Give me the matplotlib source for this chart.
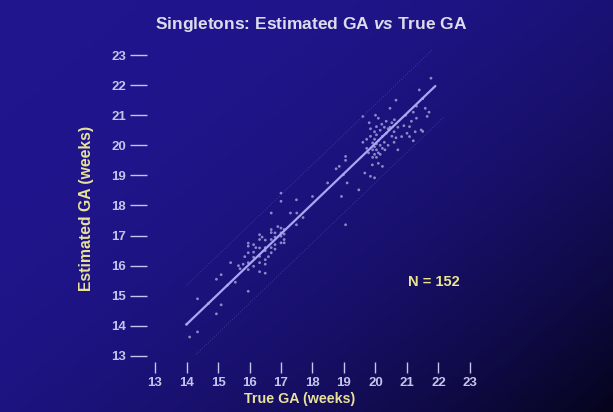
import numpy as np
import matplotlib
matplotlib.use("Agg")
import matplotlib.pyplot as plt

plt.rcParams['font.family'] = ['Liberation Sans', 'DejaVu Sans']
plt.rcParams['mathtext.fontset'] = 'custom'
plt.rcParams['mathtext.rm'] = 'Liberation Sans:bold'
plt.rcParams['mathtext.it'] = 'Liberation Sans:bold:italic'
plt.rcParams['mathtext.bf'] = 'Liberation Sans:bold'

# ---- data (weeks) ----
true_ga = [
    14.0, 14.1, 14.35, 14.35, 14.95, 15.1, 14.95, 15.1, 15.4, 15.65, 15.55, 15.3, 14.7, 15.7, 15.85,
    15.96, 15.96, 15.96, 15.96, 15.96, 15.96,
    16.13, 16.13, 16.13, 16.13,
    16.32, 16.32, 16.32, 16.32, 16.32, 16.32,
    16.5, 16.5, 16.5, 16.5, 16.5, 16.5,
    16.69, 16.69, 16.69, 16.69, 16.69, 16.69,
    16.81, 16.81, 16.81, 16.81,
    17.0, 17.0, 17.0, 17.0, 17.0, 17.0,
    17.1, 17.1, 17.1, 17.1,
    16.2, 16.4, 16.6, 16.9, 15.8,
    17.3, 17.49, 17.5, 17.49, 17.7, 18.0, 18.48, 18.75, 18.85, 18.92, 18.98, 19.05, 19.05, 19.05, 19.1,
    19.47, 19.6, 19.6, 19.66, 19.72, 19.72, 19.78, 19.84, 19.84, 19.84,
    19.91, 19.91, 19.91, 19.97, 19.97, 19.97, 19.97, 19.97,
    20.03, 20.03, 20.03, 20.03, 20.03, 20.09, 20.09, 20.09, 20.09,
    20.15, 20.15, 20.15, 20.22, 20.22, 20.22, 20.28, 20.28, 20.34, 20.34,
    20.4, 20.4, 20.46, 20.46, 20.52, 20.52, 20.59, 20.59, 20.65, 20.65, 20.71, 20.71,
    19.8, 20.2, 19.9, 20.3, 20.0, 20.6,
    20.83, 20.9, 20.96, 21.0, 21.08, 21.08, 21.14, 21.2, 21.26, 21.3,
    21.39, 21.45, 21.5, 21.58, 21.64, 21.7, 21.76, 21.3, 21.5, 21.2,
]
est_ga = [
    14.05, 13.63, 13.8, 14.9, 14.4, 14.7, 15.55, 15.7, 16.1, 16.0, 15.45, 15.35, 14.75, 15.9, 16.3,
    16.65, 16.43, 16.1, 15.87, 15.15, 16.75,
    16.45, 16.28, 15.98, 16.7,
    17.03, 16.87, 16.59, 16.31, 16.1, 15.8,
    16.6, 16.5, 16.2, 16.05, 15.75, 16.85,
    17.2, 17.1, 16.87, 16.6, 16.43, 17.75,
    17.09, 16.7, 16.55, 16.95,
    18.41, 18.14, 17.09, 16.98, 16.76, 17.25,
    17.2, 16.87, 16.76, 17.05,
    16.6, 16.95, 16.3, 17.3, 16.05,
    17.75, 18.19, 17.75, 17.36, 17.6, 18.3, 18.75, 19.22, 19.3, 18.3, 19.02, 17.36, 19.63, 19.5, 18.75,
    18.52, 20.96, 20.1, 19.08, 19.9, 20.2, 19.75, 18.97, 20.55, 20.3,
    20.08, 19.85, 19.6, 20.45, 20.2, 19.95, 19.7, 18.92,
    20.62, 20.35, 20.05, 19.85, 19.6, 20.9, 20.15, 19.75, 19.4,
    20.5, 20.0, 19.7, 20.3, 19.9, 19.3, 20.6, 20.1, 20.8, 20.4,
    20.55, 20.0, 21.23, 20.6, 20.3, 20.75, 20.45, 20.1, 21.5, 20.25, 19.85, 20.6,
    20.75, 20.7, 19.35, 19.85, 21.0, 20.85,
    20.29, 20.65, 21.0, 20.4, 20.62, 20.29, 20.8, 21.1, 20.45, 21.3,
    21.84, 20.51, 20.46, 21.23, 20.96, 21.1, 22.23, 20.9, 21.55, 20.15,
]
fit_x = [14.0, 21.9]
fit_y = [14.05, 21.97]
band_offset = 1.3
ticks = list(range(13, 24))
n_label = "N = 152"

W, H = 613, 412
fig = plt.figure(figsize=(W / 100, H / 100), dpi=100)

# background gradient
bg = fig.add_axes([0, 0, 1, 1])
bg.set_axis_off()
xx, yy = np.meshgrid(np.linspace(0, 1, 300), np.linspace(0, 1, 200))
t = np.clip(0.62 * xx + 0.5 * yy - 0.15, 0, 1) ** 2.2
c0 = np.array([0x20, 0x15, 0x8c]) / 255.0
c1 = np.array([0x03, 0x03, 0x14]) / 255.0
img = c0[None, None, :] * (1 - t[..., None]) + c1[None, None, :] * t[..., None]
bg.imshow(img, extent=[0, 1, 0, 1], aspect='auto', origin='upper')
bg.set_xlim(0, 1)
bg.set_ylim(0, 1)

ax = fig.add_axes([147 / W, 50 / H, (478 - 147) / W, (362 - 49) / H])
ax.patch.set_alpha(0)
for s in ax.spines.values():
    s.set_visible(False)

tick_col = '#c4c4ec'
ax.set_xlim(12.746, 23.254)
ax.set_ylim(12.80, 23.2)
ax.set_xticks(ticks)
ax.set_yticks(ticks)
ax.tick_params(axis='x', direction='out', length=8, width=1.0, color=tick_col,
               labelcolor=tick_col, labelsize=9.5, pad=3)
ax.tick_params(axis='y', direction='out', length=12, width=1.0, color=tick_col,
               labelcolor=tick_col, labelsize=9.5, pad=3)
for lab in ax.get_xticklabels() + ax.get_yticklabels():
    lab.set_fontweight('bold')

# bands
bx = np.array(fit_x)
by = np.array(fit_y)
ax.plot(bx, by + band_offset, color='#433ea0', lw=0.8, ls=(0, (1, 1.5)), alpha=0.7)
ax.plot(bx + 0.3, by + 0.3 - band_offset, color='#433ea0', lw=0.8, ls=(0, (1, 1.5)), alpha=0.7)

ax.scatter(true_ga, est_ga, s=4, facecolor='#a8a8d8', edgecolor='none', alpha=0.8)
ax.plot(fit_x, fit_y, color='#a8a8f2', lw=1.6, solid_capstyle='round')

ax.text(21.86, 15.46, n_label, color='#ece68e', fontsize=10.5, fontweight='bold',
        ha='center', va='center')

fig.text(311 / W, 1 - 25 / H, r"Singletons: Estimated GA $\mathit{vs}$ True GA",
         color='#dcdcec', fontsize=12.5, fontweight='bold', ha='center', va='center')
fig.text(300 / W, 1 - 399 / H, "True GA (weeks)", color='#e8e29a', fontsize=10.3,
         fontweight='bold', ha='center', va='center')
fig.text(86 / W, 1 - 208 / H, "Estimated GA (weeks)", color='#e8e29a', fontsize=11.3,
         fontweight='bold', ha='center', va='center', rotation=90)

fig.savefig('out.png', dpi=100)
